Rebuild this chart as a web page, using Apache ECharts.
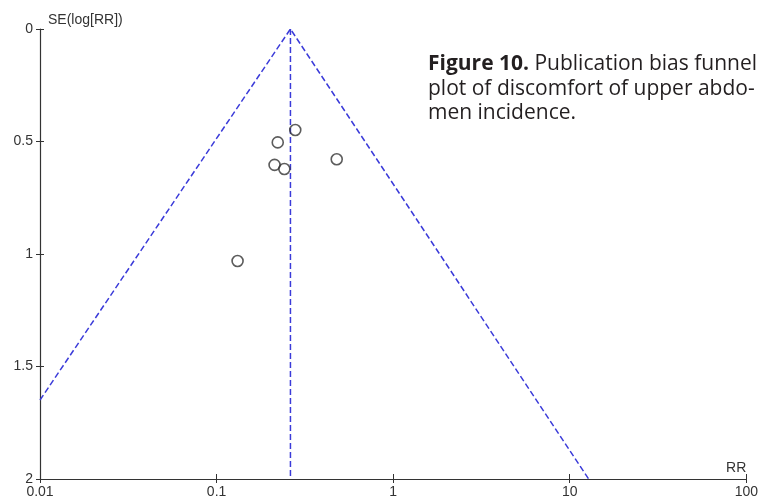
<!DOCTYPE html>
<html>
<head>
<meta charset="utf-8">
<script src="https://cdn.jsdelivr.net/npm/echarts@6/dist/echarts.min.js"></script>
<style>
  html, body { margin: 0; padding: 0; background: #fff; }
  #chart { width: 761px; height: 502px; }
</style>
</head>
<body>
<div id="chart"></div>
<script>
// study estimates: RR and SE(log[RR])
var studyRR = [0.279, 0.222, 0.213, 0.242, 0.479, 0.1315]
var studySE = [0.449, 0.504, 0.604, 0.622, 0.579, 1.031]
// pooled estimate line and 95% funnel limits
var pooledRR = [0.262, 0.262]
var pooledSE = [0, 2]
var funnelRR = [0.01, 0.262, 12.8]
var funnelSE = [1.649, 0, 2]
var seTicks = [0, 0.5, 1, 1.5, 2]

var pts = studyRR.map(function (v, i) { return [v, studySE[i]] })
var pooled = pooledRR.map(function (v, i) { return [v, pooledSE[i]] })
var funnel = funnelRR.map(function (v, i) { return [v, funnelSE[i]] })

var axisFont = { color: '#333', fontSize: 14, fontFamily: 'Liberation Sans, Arial, sans-serif' }
var lineCol = '#333'
var dashStyle = { color: '#3b3bd9', width: 1.5, type: [6, 3] }

var chart = echarts.init(document.getElementById('chart'))
var option = {
  animation: false,
  backgroundColor: '#fff',
  grid: { left: 40, right: 14, top: 29, bottom: 23 },
  xAxis: [
    {
      type: 'log', logBase: 10, min: 0.01, max: 100, position: 'bottom',
      name: 'RR', nameLocation: 'end', nameGap: 0,
      nameTextStyle: Object.assign({}, axisFont, { align: 'right', verticalAlign: 'bottom', padding: [0, 0, 4, 0] }),
      axisLine: { onZero: false, lineStyle: { color: lineCol, width: 1.2 } },
      axisTick: { show: true, length: 4, lineStyle: { color: lineCol } },
      axisLabel: Object.assign({}, axisFont, { margin: 6, formatter: function (v) { return String(+v.toPrecision(3)) } }),
      splitLine: { show: false }
    },
    {
      type: 'log', logBase: 10, min: 0.01, max: 100, position: 'bottom',
      axisLine: { show: false, onZero: false },
      axisTick: { show: true, inside: true, length: 5, lineStyle: { color: lineCol } },
      axisLabel: { show: false },
      splitLine: { show: false }
    }
  ],
  yAxis: [
    {
      type: 'value', inverse: true, min: 0, max: 2, interval: 0.5, position: 'left',
      name: 'SE(log[RR])', nameLocation: 'start', nameGap: 2,
      nameTextStyle: Object.assign({}, axisFont, { align: 'left', verticalAlign: 'bottom', padding: [0, 0, 0, 8] }),
      axisLine: { show: true, onZero: false, lineStyle: { color: lineCol, width: 1.2 } },
      axisTick: { show: true, length: 4, lineStyle: { color: lineCol } },
      axisLabel: Object.assign({}, axisFont, { margin: 7, formatter: function (v) { return seTicks.indexOf(v) >= 0 ? String(v) : '' } }),
      splitLine: { show: false }
    },
    {
      type: 'value', inverse: true, min: 0, max: 2, interval: 0.5, position: 'left',
      axisLine: { show: false, onZero: false },
      axisTick: { show: true, inside: true, length: 4, lineStyle: { color: lineCol } },
      axisLabel: { show: false },
      splitLine: { show: false }
    }
  ],
  series: [
    {
      type: 'line', data: funnel, symbol: 'none',
      lineStyle: dashStyle, z: 2
    },
    {
      type: 'line', data: pooled, symbol: 'none',
      lineStyle: dashStyle, z: 2
    },
    {
      type: 'scatter', data: pts, symbol: 'circle', symbolSize: 11,
      itemStyle: { color: 'transparent', borderColor: '#333', borderWidth: 1.6 },
      z: 3
    }
  ],
  graphic: [
    {
      type: 'text', left: 428, top: 52,
      style: {
        text: '{b|Figure 10.} Publication bias funnel\nplot of discomfort of upper abdo-\nmen incidence.',
        fill: '#231f20',
        fontSize: 21,
        fontFamily: 'Open Sans, Noto Sans, sans-serif',
        lineHeight: 24.5,
        rich: {
          b: { fontWeight: 'bold', fontSize: 21, fill: '#231f20', fontFamily: 'Open Sans, Noto Sans, sans-serif', lineHeight: 24.5 }
        }
      }
    }
  ]
}
chart.setOption(option)
</script>
</body>
</html>
